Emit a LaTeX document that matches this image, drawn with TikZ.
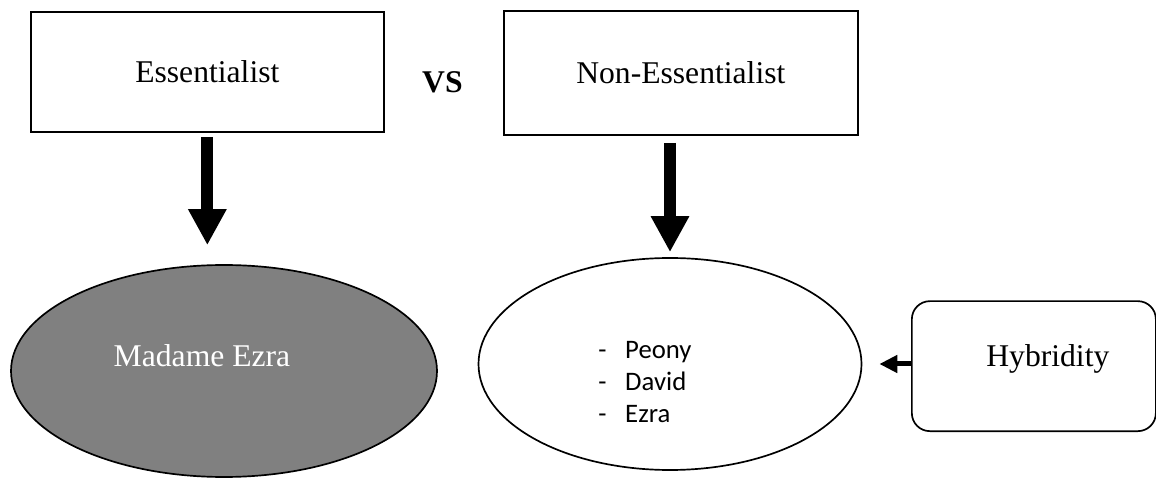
\documentclass[tikz,border=0pt]{standalone}
\usepackage{fontspec}
\setmainfont{Liberation Serif}
\newfontfamily\listfont{Carlito}
\usepackage{tikz}
\usetikzlibrary{calc}
\usetikzlibrary{positioning}
\usetikzlibrary{shapes.geometric}
\usetikzlibrary{arrows.meta}

\begin{document}
\begin{tikzpicture}[
	box/.style={rectangle, draw=black, line width=1.2pt, anchor=south west},
	oval/.style={ellipse, draw=black, line width=1.2pt, inner sep=0pt},
	bigfont/.style={font=\fontsize{22.5}{27}\selectfont},
	bigarrow/.style={line width=0.3cm, -{Triangle[width=0.9cm, length=0.9cm]}},
	smallarrow/.style={line width=0.125cm, -{Triangle[width=0.425cm, length=0.45cm]}}
]
\useasboundingbox (0,0) rectangle (28.9,11.95);

\node at (0.75,8.625) [box, minimum height = 3cm, minimum width = 8.825cm, bigfont] (ess) {Essentialist};
\node at (12.575,8.55) [box, minimum height = 3.1cm, minimum width = 8.85cm, bigfont] (noness) {Non-Essentialist};
\node at (11.06,9.625) [anchor=base, bigfont, font=\bfseries\fontsize{22.5}{27}\selectfont] (vs) {VS};

\node at (5.6,2.675) [oval, fill=black!50, minimum width = 10.65cm, minimum height = 5.3cm] (madame) {};
\node [anchor=base, bigfont, text=white] at ([xshift=-0.55cm, yshift=0.1cm]madame.center) (madametext) {Madame Ezra};

\node at (16.75,2.85) [oval, fill=white, minimum width = 9.575cm, minimum height = 5.3cm] (peers) {};
\node [anchor=west, inner sep=0pt, font=\listfont\fontsize{19}{22.7}\selectfont] at ([xshift=-1.8cm, yshift=-0.5cm]peers.center) (names) {\begin{tabular}{@{}l@{\hspace{0.47cm}}l@{}}- & Peony\\ - & David\\ - & Ezra\end{tabular}};

\node at (22.775,1.15) [box, rounded corners=0.45cm, minimum height = 3.25cm, minimum width = 6.1cm] (hyb) {};
\node [anchor=base, bigfont] at ([xshift=0.35cm]hyb.center) (hybtext) {Hybridity};

\draw [bigarrow] ([yshift=-0.1cm]ess.south) -- ($(ess.south |- madame.north)+(0,0.475)$);
\draw [bigarrow] ($(peers.north |- noness.south)+(0,-0.175)$) -- ([yshift=0.125cm]peers.north);
\draw [smallarrow] (hyb.west |- peers.east) -- ([xshift=0.425cm]peers.east);

\end{tikzpicture}
\end{document}
